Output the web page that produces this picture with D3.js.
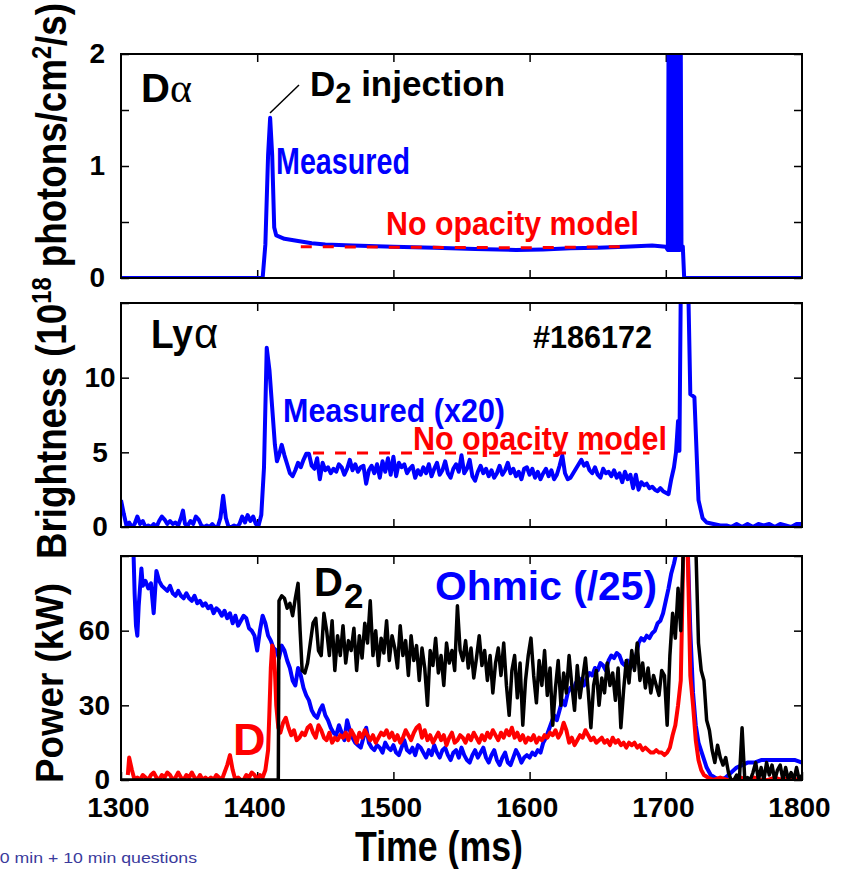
<!DOCTYPE html>
<html>
<head>
<meta charset="utf-8">
<script src="https://cdn.jsdelivr.net/npm/d3@7"></script>
<style>
  body { margin: 0; background: #fff; }
  svg text { font-family: "Liberation Sans", Arial, sans-serif; font-weight: bold; }
  svg text.plain, svg tspan.plain { font-weight: normal; }
</style>
</head>
<body>
<script>
"use strict";
// ---- data (time in ms) ----
const xTicks = [1300, 1400, 1500, 1600, 1700, 1800];

// D-alpha, measured
const daTime = [1300, 1404, 1406, 1408, 1409.5, 1411, 1412.5, 1414, 1420, 1430, 1440, 1450, 1470, 1500, 1530, 1560, 1590, 1610, 1630, 1650, 1670, 1690, 1700,
  1701.5, 1702, 1702.5, 1703, 1703.5, 1704, 1704.5, 1705, 1705.5, 1706, 1706.5, 1707, 1707.5, 1708, 1708.5, 1709, 1709.5, 1710, 1710.5, 1711, 1711.5,
  1712.5, 1713.5, 1800];
const daMeas = [0, 0, 0.3, 1.1, 1.43, 1.1, 0.45, 0.38, 0.35, 0.33, 0.31, 0.30, 0.29, 0.28, 0.27, 0.26, 0.25, 0.255, 0.265, 0.27, 0.28, 0.29, 0.28,
  0.25, 2.05, 0.25, 2.05, 0.25, 2.05, 0.25, 2.05, 0.25, 2.05, 0.25, 2.05, 0.25, 2.05, 0.25, 2.05, 0.25, 2.05, 0.25, 2.05, 0.27,
  0.28, 0, 0];
// D-alpha, no opacity model
const daModelTime = [1432, 1500, 1600, 1673];
const daModel = [0.28, 0.275, 0.27, 0.28];

// Ly-alpha measured (x20)
const lyTime = [1300, 1302, 1304, 1306, 1308, 1310, 1312, 1314, 1316, 1318, 1320, 1322, 1324, 1326, 1328, 1330, 1332, 1334, 1336, 1338,
  1340, 1342, 1344, 1345.5, 1347, 1349, 1351, 1353, 1355, 1357, 1359, 1361, 1363, 1365, 1367, 1369, 1371, 1373, 1375, 1377,
  1379, 1381, 1383, 1385, 1387, 1389, 1391, 1393, 1395, 1397, 1399, 1401, 1403, 1405, 1407, 1409, 1411, 1413, 1414.5, 1416,
  1418, 1420, 1422, 1424, 1426, 1428, 1430, 1432, 1434, 1436, 1438, 1440, 1442, 1444, 1446, 1448, 1450, 1452, 1454, 1456,
  1458, 1460, 1462, 1464, 1466, 1468, 1470, 1472, 1474, 1476, 1478, 1480, 1482, 1484, 1486, 1488, 1490, 1492, 1494, 1496,
  1498, 1500, 1502, 1504, 1506, 1508, 1510, 1512, 1514, 1516, 1518, 1520, 1522, 1524, 1526, 1528, 1530, 1532, 1534, 1536,
  1538, 1540, 1542, 1544, 1546, 1548, 1550, 1552, 1554, 1556, 1558, 1560, 1562, 1564, 1566, 1568, 1570, 1572, 1574, 1576,
  1578, 1580, 1582, 1584, 1586, 1588, 1590, 1592, 1594, 1596, 1598, 1600, 1602, 1604, 1606, 1608, 1610, 1612, 1614, 1616,
  1618, 1620, 1622, 1624, 1626, 1628, 1630, 1632, 1634, 1636, 1638, 1640, 1642, 1644, 1646, 1648, 1650, 1652, 1654, 1656,
  1658, 1660, 1662, 1664, 1666, 1668, 1670, 1672, 1674, 1676, 1678, 1680, 1682, 1684, 1686, 1688, 1690, 1692, 1694, 1696,
  1698, 1700, 1702, 1704, 1706, 1707.5, 1709, 1710, 1711, 1713, 1715, 1716.5, 1718, 1721, 1724, 1727, 1730, 1735, 1740, 1745,
  1748, 1752, 1756, 1760, 1764, 1768, 1772, 1776, 1780, 1784, 1788, 1792, 1796, 1800];
const lyMeas = [1.8, 0.9, 0.1, 0.3, 0.0, 0.2, 0.7, 0.2, 0.4, 0.0, 0.1, 0.0, 0.2, 0.0, 0.4, 0.7, 0.5, 0.2, 0.4, 0.2,
  0.3, 0.1, 0.6, 1.1, 0.2, 0.1, 0.4, 0.2, 0.7, 0.5, 0.1, 0.0, 0.1, 0.0, 0.2, 0.0, 0.0, 0.6, 2.1, 0.6,
  0.0, 0.0, 0.1, 0.0, 0.2, 0.7, 0.3, 0.8, 0.4, 0.7, 0.2, 0.1, 0.8, 4.0, 12.0, 10.5, 8.0, 5.5, 4.4, 4.8,
  5.5, 4.8, 4.2, 3.6, 3.4, 3.8, 4.3, 4.0, 4.5, 4.9, 4.9, 4.1, 3.9, 4.6, 3.2, 4.3, 3.8, 4.0, 3.6, 3.9,
  3.7, 4.2, 4.0, 3.5, 3.9, 4.5, 3.8, 4.2, 3.7, 4.0, 4.1, 2.9, 3.8, 4.1, 3.6, 4.2, 3.3, 4.4, 3.7, 4.6,
  3.5, 4.7, 3.4, 4.3, 4.0, 4.2, 3.6, 3.9, 4.1, 3.3, 3.8, 3.5, 4.0, 3.6, 4.2, 3.4, 3.9, 4.3, 3.5, 3.8,
  4.4, 3.6, 3.3, 3.9, 4.2, 3.7, 4.8, 3.6, 3.9, 4.5, 3.4, 3.1, 3.7, 4.1, 3.6, 3.9, 3.4, 3.8, 3.3, 3.6,
  4.1, 3.5, 3.8, 4.3, 3.6, 3.9, 3.4, 3.7, 3.2, 3.9, 4.0, 3.5, 3.9, 3.3, 3.7, 3.2, 3.6, 3.9, 3.4, 3.8,
  3.2, 3.5, 4.1, 4.8, 3.6, 3.2, 3.3, 3.6, 3.9, 4.2, 4.5, 4.1, 4.3, 3.8, 3.6, 4.0, 3.5, 3.3, 3.9, 3.6,
  3.7, 3.4, 3.8, 3.3, 3.6, 3.0, 3.7, 3.2, 3.5, 2.6, 3.5, 2.5, 3.0, 2.8, 2.9, 2.6, 2.7, 2.5, 2.4, 2.6,
  2.4, 2.3, 2.2, 3.2, 4.0, 5.0, 7.1, 5.1, 16, 16, 16, 16, 8.9, 8.7, 1.8, 0.6, 0.3, 0.2, 0.1, 0.1,
  0.0, 0.2, 0.0, 0.2, 0.0, 0.2, 0.1, 0.2, 0.0, 0.2, 0.1, 0.0, 0.2, 0.2];
// Ly-alpha, no opacity model
const lyModelTime = [1441, 1550, 1688];
const lyModel = [4.95, 4.95, 4.95];

// Power: Ohmic (/25)
const ohTime = [1309, 1310, 1311, 1312, 1313, 1315, 1316, 1318, 1320, 1322, 1324, 1326, 1328, 1330, 1332, 1334, 1336, 1338, 1340, 1342,
  1344, 1346, 1348, 1350, 1352, 1354, 1356, 1358, 1360, 1362, 1364, 1366, 1368, 1370, 1372, 1374, 1376, 1378, 1380, 1382,
  1384, 1386, 1388, 1390, 1392, 1394, 1396, 1398, 1400, 1402, 1404, 1406, 1408, 1410, 1412, 1414, 1416, 1418, 1420, 1422,
  1424, 1426, 1428, 1430, 1432, 1434, 1436, 1438, 1440, 1442, 1444, 1446, 1448, 1450, 1452, 1454, 1456, 1458, 1460, 1462,
  1464, 1466, 1468, 1470, 1472, 1474, 1476, 1478, 1480, 1482, 1484, 1486, 1488, 1490, 1492, 1494, 1496, 1498, 1500, 1502,
  1504, 1506, 1508, 1510, 1512, 1514, 1516, 1518, 1520, 1522, 1524, 1526, 1528, 1530, 1532, 1534, 1536, 1538, 1540, 1542,
  1544, 1546, 1548, 1550, 1552, 1554, 1556, 1558, 1560, 1562, 1564, 1566, 1568, 1570, 1572, 1574, 1576, 1578, 1580, 1582,
  1584, 1586, 1588, 1590, 1592, 1594, 1596, 1598, 1600, 1602, 1604, 1606, 1608, 1610, 1612, 1614, 1616, 1618, 1620, 1622,
  1624, 1626, 1628, 1630, 1632, 1634, 1636, 1638, 1640, 1642, 1644, 1646, 1648, 1650, 1652, 1654, 1656, 1658, 1660, 1662,
  1664, 1666, 1668, 1670, 1672, 1674, 1676, 1678, 1680, 1682, 1684, 1686, 1688, 1690, 1692, 1694, 1696, 1698, 1700, 1702,
  1704, 1706, 1708, 1710, 1716, 1718, 1720, 1722, 1724, 1727, 1730, 1733, 1736, 1740, 1744, 1748, 1752, 1756, 1760, 1765,
  1770, 1775, 1780, 1785, 1790, 1795, 1800];
const ohmic = [95, 75, 62, 58, 70, 85, 78, 80, 77, 79, 67, 84, 80, 78, 77, 76, 78, 75, 74, 76,
  74, 73, 75, 73, 72, 74, 71, 72, 70, 71, 69, 70, 67, 69, 68, 66, 68, 65, 67, 63,
  66, 62, 64, 66, 65, 61, 60, 58, 52, 60, 66, 63, 58, 56, 53, 52, 49, 54, 52, 48,
  45, 40, 38, 45, 42, 37, 34, 32, 28, 26, 25, 28, 30, 26, 24, 21, 19, 18, 22, 19,
  16, 24, 20, 17, 15, 14, 13, 17, 21, 15, 13, 12, 14, 13, 11, 15, 13, 12, 14, 11,
  10, 13, 16, 12, 11, 13, 10, 14, 13, 11, 9, 12, 10, 14, 11, 9, 12, 13, 10, 8,
  11, 12, 9, 13, 10, 8, 7, 10, 12, 9, 11, 13, 9, 7, 10, 12, 8, 6, 9, 11,
  7, 6, 9, 12, 10, 7, 9, 10, 9, 11, 10, 12, 11, 15, 17, 20, 23, 26, 24, 28,
  32, 30, 35, 37, 36, 39, 41, 40, 38, 41, 43, 42, 45, 44, 47, 46, 44, 48, 50, 49,
  51, 50, 47, 46, 48, 45, 47, 49, 55, 57, 56, 58, 57, 59, 60, 63, 64, 67, 72, 77,
  83, 87, 92, 95, 95, 60, 35, 22, 15, 10, 5, 2, 1, 0, 1, 3, 5, 6, 7, 7,
  8, 8, 8, 8, 8, 8, 7];

// Power: D
const dTime = [1305, 1306, 1308, 1310, 1312, 1314, 1316, 1318, 1320, 1322, 1324, 1326, 1328, 1330, 1332, 1334, 1336, 1338, 1340, 1342,
  1344, 1346, 1348, 1350, 1352, 1354, 1356, 1358, 1360, 1362, 1364, 1366, 1368, 1370, 1372, 1374, 1376, 1378, 1380, 1382,
  1384, 1386, 1388, 1390, 1392, 1394, 1396, 1398, 1400, 1402, 1404, 1406, 1408, 1409, 1410, 1411, 1412, 1413, 1414, 1415.5,
  1417, 1419, 1421, 1423, 1425, 1427, 1429, 1431, 1433, 1435, 1437, 1439, 1441, 1443, 1445, 1447, 1449, 1451, 1453, 1455,
  1457, 1459, 1461, 1463, 1465, 1467, 1469, 1471, 1473, 1475, 1477, 1479, 1481, 1483, 1485, 1487, 1489, 1491, 1493, 1495,
  1497, 1499, 1501, 1503, 1505, 1507, 1509, 1511, 1513, 1515, 1517, 1519, 1521, 1523, 1525, 1527, 1529, 1531, 1533, 1535,
  1537, 1539, 1541, 1543, 1545, 1547, 1549, 1551, 1553, 1555, 1557, 1559, 1561, 1563, 1565, 1567, 1569, 1571, 1573, 1575,
  1577, 1579, 1581, 1583, 1585, 1587, 1589, 1591, 1593, 1595, 1597, 1599, 1601, 1603, 1605, 1607, 1609, 1611, 1613, 1615,
  1617, 1619, 1621, 1623, 1625, 1627, 1629, 1631, 1633, 1635, 1637, 1639, 1641, 1643, 1645, 1647, 1649, 1651, 1653, 1655,
  1657, 1659, 1661, 1663, 1665, 1667, 1669, 1671, 1673, 1675, 1677, 1679, 1681, 1683, 1685, 1687, 1689, 1691, 1693, 1695,
  1697, 1699, 1701, 1703, 1705, 1707, 1709, 1711, 1713, 1716, 1718, 1720, 1722, 1724, 1726, 1728, 1731, 1735, 1740, 1745,
  1750, 1755, 1760, 1765, 1770, 1775, 1780, 1785, 1790, 1795, 1800];
const dPower = [2, 9, 4, 0, 1, 0, 2, 1, 0, 2, 3, 1, 0, 2, 1, 3, 2, 0, 1, 3,
  1, 0, 2, 1, 3, 1, 0, 2, 0, 1, 0, 1, 0, 2, 1, 0, 3, 6, 10, 4,
  0, 1, 0, 0, 2, 1, 3, 2, 0, 2, 1, 4, 12, 28, 45, 54, 52, 44, 30, 21,
  19, 23, 25, 21, 18, 20, 16, 17, 19, 18, 21, 22, 19, 17, 22, 20, 17, 16, 19, 15,
  17, 16, 18, 17, 19, 16, 20, 18, 15, 19, 17, 20, 18, 16, 18, 15, 17, 19, 18, 20,
  17, 19, 16, 18, 15, 17, 20, 18, 16, 19, 21, 22, 17, 20, 16, 18, 15, 17, 19, 16,
  18, 14, 17, 19, 15, 16, 18, 17, 15, 18, 16, 19, 17, 15, 18, 16, 19, 17, 20, 18,
  16, 19, 17, 20, 18, 21, 17, 19, 16, 18, 15, 17, 16, 18, 15, 17, 16, 18, 17, 19,
  18, 20, 17, 19, 23, 20, 15, 17, 14, 16, 18, 17, 20, 18, 16, 17, 15, 16, 17, 15,
  16, 14, 17, 15, 16, 14, 15, 13, 15, 14, 15, 13, 14, 12, 13, 12, 11, 11, 12, 11,
  11, 10, 11, 13, 18, 22, 30, 40, 95, 95, 42, 30, 16, 8, 4, 2, 1, 0, 1, 0,
  0, 1, 0, 1, 0, 0, 1, 0, 1, 0, 1];

// Power: D2
const d2Time = [1300, 1415.5, 1416, 1418, 1420, 1422, 1424, 1426, 1428, 1430, 1431.5, 1433, 1435, 1437, 1439, 1441, 1443, 1445, 1447, 1449,
  1451, 1453, 1455, 1457, 1459, 1461, 1463, 1465, 1467, 1469, 1471, 1473, 1475, 1477, 1479, 1481, 1483, 1485, 1487, 1489,
  1491, 1493, 1495, 1497, 1499, 1501, 1503, 1505, 1507, 1509, 1511, 1513, 1515, 1517, 1519, 1521, 1523, 1525, 1527, 1529,
  1531, 1533, 1535, 1537, 1539, 1541, 1543, 1545, 1547, 1549, 1551, 1553, 1555, 1557, 1559, 1561, 1563, 1565, 1567, 1569,
  1571, 1573, 1575, 1577, 1579, 1581, 1583, 1585, 1587, 1589, 1591, 1593, 1595, 1597, 1599, 1601, 1603, 1605, 1607, 1609,
  1611, 1613, 1615, 1617, 1619, 1621, 1623, 1625, 1627, 1629, 1631, 1633, 1635, 1637, 1639, 1641, 1643, 1645, 1647, 1649,
  1651, 1653, 1655, 1657, 1659, 1661, 1663, 1665, 1667, 1669, 1671, 1673, 1675, 1677, 1679, 1681, 1683, 1685, 1687, 1689,
  1691, 1693, 1695, 1697, 1699, 1701, 1703, 1705, 1707, 1709, 1711, 1713, 1722, 1724, 1726, 1728, 1730, 1732, 1734, 1736,
  1738, 1740, 1742, 1744, 1746, 1748, 1750, 1752, 1754, 1756, 1758, 1760, 1762, 1764, 1766, 1768, 1770, 1772, 1774, 1776,
  1778, 1780, 1782, 1784, 1786, 1788, 1790, 1792, 1794, 1796, 1798, 1800];
const d2Power = [0, 0, 72, 74, 73, 69, 71, 66, 73, 79, 60, 44, 43, 47, 55, 63, 65, 52, 50, 67,
  60, 50, 64, 44, 58, 50, 62, 47, 56, 52, 61, 44, 58, 49, 63, 55, 72, 50, 60, 46,
  57, 51, 64, 48, 58, 53, 45, 62, 50, 56, 42, 58, 48, 54, 40, 53, 45, 30, 52, 46,
  57, 43, 50, 38, 55, 47, 52, 44, 70, 52, 48, 56, 45, 53, 41, 49, 58, 46, 52, 40,
  50, 35, 47, 53, 42, 55, 38, 26, 44, 50, 33, 47, 22, 40, 50, 57, 42, 31, 48, 38,
  52, 34, 45, 22, 37, 48, 30, 43, 35, 50, 38, 28, 46, 33, 41, 49, 36, 21, 38, 44,
  30, 41, 35, 47, 38, 43, 32, 45, 21, 36, 48, 39, 52, 44, 55, 40, 47, 37, 45, 35,
  42, 38, 34, 44, 42, 22, 50, 67, 57, 77, 60, 95, 95, 55, 44, 40, 24, 20, 12, 7,
  14, 9, 6, 9, 3, 0, 0, 2, 0, 21, 0, 1, 0, 3, 7, 0, 5, 0, 7, 2,
  6, 0, 4, 6, 0, 5, 0, 3, 0, 5, 0, 2];

// ---- layout ----
const W = 850, H = 869;
const left = 121, right = 802;
const panels = [
  { top: 54, bottom: 278, domain: [0, 2], ticks: [0, 0.5, 1, 1.5, 2], labels: [0, 1, 2] },
  { top: 303, bottom: 527, domain: [0, 15], ticks: [0, 5, 10, 15], labels: [0, 5, 10] },
  { top: 556, bottom: 780, domain: [0, 90], ticks: [0, 30, 60, 90], labels: [0, 30, 60] }
];

const svg = d3.select("body").append("svg")
  .attr("width", W)
  .attr("height", H);

const x = d3.scaleLinear().domain([1300, 1800]).range([left, right]);

panels.forEach((p, i) => {
  p.y = d3.scaleLinear().domain(p.domain).range([p.bottom, p.top]);
  svg.append("clipPath").attr("id", "clip" + i)
    .append("rect")
    .attr("x", left).attr("y", p.top)
    .attr("width", right - left).attr("height", p.bottom - p.top);
});

function drawAxes(p, i) {
  const last = i === 2;
  const bottom = svg.append("g")
    .attr("transform", `translate(0,${p.bottom})`)
    .call(d3.axisBottom(x).tickValues(last ? xTicks : xTicks.slice(1, 5))
      .tickSizeInner(-8).tickSizeOuter(0).tickPadding(17)
      .tickFormat(last ? d3.format("d") : () => ""));
  svg.append("g")
    .attr("transform", `translate(0,${p.top})`)
    .call(d3.axisTop(x).tickValues(xTicks.slice(1, 5))
      .tickSizeInner(-8).tickSizeOuter(0).tickFormat(() => ""));
  const pad = i === 0 ? 16 : (i === 1 ? 21 : 11);
  const yl = svg.append("g")
    .attr("transform", `translate(${left},0)`)
    .call(d3.axisLeft(p.y).tickValues(p.ticks)
      .tickSizeInner(-8).tickSizeOuter(0).tickPadding(pad)
      .tickFormat(d => p.labels.includes(d) ? d : ""));
  if (i === 1) yl.selectAll("text").attr("text-anchor", "middle");
  svg.append("g")
    .attr("transform", `translate(${right},0)`)
    .call(d3.axisRight(p.y).tickValues(p.ticks)
      .tickSizeInner(-8).tickSizeOuter(0).tickFormat(() => ""));
  svg.selectAll(".domain").remove();
  [bottom, yl].forEach(g => g.selectAll("text")
    .attr("font-size", 28)
    .attr("font-family", "'Liberation Sans', Arial, sans-serif")
    .attr("fill", "#000"));
  if (last) bottom.selectAll("text").attr("dx", -3);
  svg.selectAll(".tick line").attr("stroke", "#000").attr("stroke-width", 1.5);
}

function series(i, xs, ys, color, width, dash) {
  const p = panels[i];
  const line = d3.line()
    .x((d, k) => x(xs[k]))
    .y(d => p.y(d));
  svg.append("path")
    .datum(ys)
    .attr("clip-path", `url(#clip${i})`)
    .attr("d", line)
    .attr("fill", "none")
    .attr("stroke", color)
    .attr("stroke-width", width)
    .attr("stroke-linejoin", "round")
    .attr("stroke-dasharray", dash || null);
}

function label(str, px, py, size, color, len) {
  const t = svg.append("text")
    .attr("x", px).attr("y", py)
    .attr("font-size", size)
    .attr("fill", color)
    .text(str);
  if (len) t.attr("textLength", len).attr("lengthAdjust", "spacingAndGlyphs");
  return t;
}

panels.forEach(drawAxes);

// traces
series(0, daTime, daMeas, "#0000ff", 4);
series(0, daModelTime, daModel, "#ff0000", 3, "11,11");
series(1, lyTime, lyMeas, "#0000ff", 4);
series(1, lyModelTime, lyModel, "#ff0000", 3, "11,11");
series(2, ohTime, ohmic, "#0000ff", 4);
series(2, dTime, dPower, "#ff0000", 4);
series(2, d2Time, d2Power, "#000000", 3.5);

// frames
panels.forEach(p => {
  svg.append("rect")
    .attr("x", left).attr("y", p.top)
    .attr("width", right - left).attr("height", p.bottom - p.top)
    .attr("fill", "none").attr("stroke", "#000").attr("stroke-width", 2);
});

// panel 1 annotations
const da = label("D", 141, 102, 40, "#000");
da.append("tspan").attr("class", "plain")
  .attr("font-family", "'Liberation Serif', 'DejaVu Serif', serif")
  .attr("font-size", 42).text("α");
svg.append("line")
  .attr("x1", 270).attr("y1", 113).attr("x2", 299).attr("y2", 85)
  .attr("stroke", "#000").attr("stroke-width", 1.5);
const inj = label("D", 310, 96, 35, "#000");
inj.append("tspan").attr("font-size", 29).attr("dy", 7).text("2");
inj.append("tspan").attr("dy", -7).text(" injection");
label("Measured", 276, 174, 36, "#0000ff", 134);
label("No opacity model", 386, 235, 33, "#ff0000", 253);

// panel 2 annotations
label("Ly", 151, 348, 40, "#000", 42);
svg.append("text").attr("class", "plain")
  .attr("x", 194).attr("y", 348)
  .attr("font-size", 42)
  .attr("font-family", "'Liberation Serif', 'DejaVu Serif', serif")
  .text("α");
label("#186172", 533, 348, 32, "#000", 119);
label("Measured (x20)", 283, 422, 34, "#0000ff", 222);
label("No opacity model", 413, 450, 33, "#ff0000", 254);

// panel 3 annotations
label("D", 314, 596, 40, "#000");
label("2", 344, 608, 35, "#000");
label("Ohmic (/25)", 435, 600, 41, "#0000ff", 222);
label("D", 233, 755, 45, "#ff0000");

// axis titles
const yt = svg.append("text")
  .attr("transform", "translate(66,281) rotate(-90)")
  .attr("text-anchor", "middle")
  .attr("font-size", 42)
  .attr("fill", "#000")
  .attr("textLength", 556)
  .attr("lengthAdjust", "spacingAndGlyphs");
yt.append("tspan").text("Brightness (10");
yt.append("tspan").attr("font-size", 27).attr("dy", -15).text("18");
yt.append("tspan").attr("dy", 15).text(" photons/cm");
yt.append("tspan").attr("font-size", 27).attr("dy", -15).text("2");
yt.append("tspan").attr("dy", 15).text("/s)");

svg.append("text")
  .attr("transform", "translate(63,683) rotate(-90)")
  .attr("text-anchor", "middle")
  .attr("font-size", 39)
  .attr("fill", "#000")
  .attr("textLength", 200)
  .attr("lengthAdjust", "spacingAndGlyphs")
  .text("Power (kW)");

label("Time (ms)", 355, 861, 42, "#000", 168);

// footer note, cut at the left edge
svg.append("text")
  .attr("class", "plain")
  .attr("x", -10).attr("y", 863)
  .attr("font-size", 15)
  .attr("font-family", "Lato, 'Open Sans', sans-serif")
  .attr("fill", "#3a3a9c")
  .attr("textLength", 207)
  .attr("lengthAdjust", "spacingAndGlyphs")
  .text("20 min + 10 min questions");
</script>
</body>
</html>
